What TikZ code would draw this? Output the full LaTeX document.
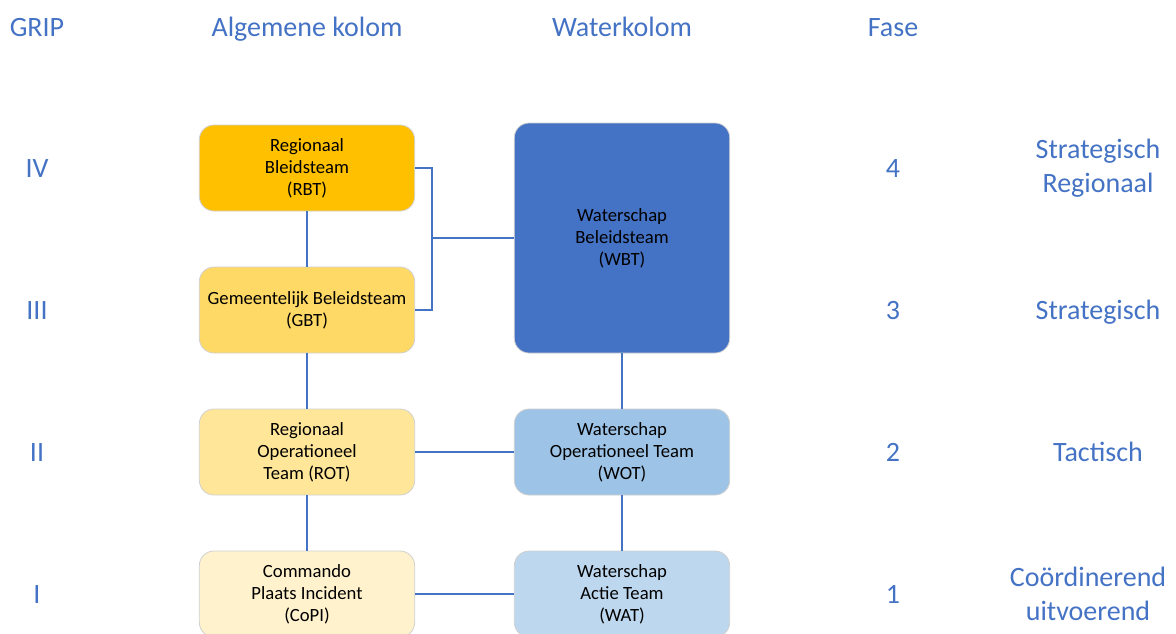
\documentclass[tikz,border=0pt]{standalone}
\usepackage{fontspec}
\setmainfont{Carlito}
\definecolor{hdr}{HTML}{4472C4}
\definecolor{c1}{HTML}{FFC000}
\definecolor{c2}{HTML}{FFD966}
\definecolor{c3}{HTML}{FFE699}
\definecolor{c4}{HTML}{FFF2CC}
\definecolor{w1}{HTML}{4472C4}
\definecolor{w2}{HTML}{9DC3E6}
\definecolor{w3}{HTML}{BDD7EE}
\definecolor{bord}{HTML}{D0D0D0}
\begin{document}
\begin{tikzpicture}[x=0.75pt,y=-0.75pt,
  box/.style={draw=bord, line width=0.6pt, rounded corners=11pt, align=center,
    minimum width=161.5pt, minimum height=64.5pt, inner sep=0pt,
    font=\fontsize{14}{16.5}\selectfont, text=black},
  conn/.style={draw=hdr, line width=1.1pt},
  lbl/.style={text=hdr, font=\fontsize{21}{25.5}\selectfont, align=center, inner sep=0pt},
  slbl/.style={lbl, anchor=base}]
\useasboundingbox (0,0) rectangle (1176,633);
\clip (0,0) rectangle (1176,633);
% headers
\node[slbl] (hgrip) at (37,36) {GRIP};
\node[slbl] (halg) at (307,36) {Algemene kolom};
\node[slbl] (hwat) at (622,36) {Waterkolom};
\node[slbl] (hfase) at (893,36) {Fase};
% GRIP levels
\node[slbl] (g4) at (37,177) {IV};
\node[slbl] (g3) at (37,319) {III};
\node[slbl] (g2) at (37,461) {II};
\node[slbl] (g1) at (37,603) {I};
% Fase numbers
\node[slbl] (f4) at (893,177) {4};
\node[slbl] (f3) at (893,319) {3};
\node[slbl] (f2) at (893,461) {2};
\node[slbl] (f1) at (893,603) {1};
% Fase names
\node[lbl] (n4) at (1098,168) {Strategisch\\Regionaal};
\node[slbl] (n3) at (1098,319) {Strategisch};
\node[slbl] (n2) at (1098,461) {Tactisch};
\node[lbl] (n1) at (1088,594) {Coördinerend\\uitvoerend};
% boxes
\node[box, fill=c1] (rbt) at (307,168) {Regionaal\\Bleidsteam\\(RBT)};
\node[box, fill=c2] (gbt) at (307,310) {Gemeentelijk Beleidsteam\\(GBT)};
\node[box, fill=c3] (rot) at (307,452) {Regionaal\\Operationeel\\Team (ROT)};
\node[box, fill=c4] (copi) at (307,594) {Commando\\Plaats Incident\\(CoPI)};
\node[box, fill=w1, minimum height=172.5pt] (wbt) at (622,238) {Waterschap\\Beleidsteam\\(WBT)};
\node[box, fill=w2] (wot) at (622,452) {Waterschap\\Operationeel Team\\(WOT)};
\node[box, fill=w3] (wat) at (622,594) {Waterschap\\Actie Team\\(WAT)};
% connectors
\coordinate (j) at (432,238);
\draw[conn] (rbt.south) -- (gbt.north);
\draw[conn] (gbt.south) -- (rot.north);
\draw[conn] (rot.south) -- (copi.north);
\draw[conn] (rbt.east) -| (j) |- (gbt.east);
\draw[conn] (j) -- (wbt.west);
\draw[conn] (wbt.south) -- (wot.north);
\draw[conn] (wot.south) -- (wat.north);
\draw[conn] (rot.east) -- (wot.west);
\draw[conn] (copi.east) -- (wat.west);
\end{tikzpicture}
\end{document}
